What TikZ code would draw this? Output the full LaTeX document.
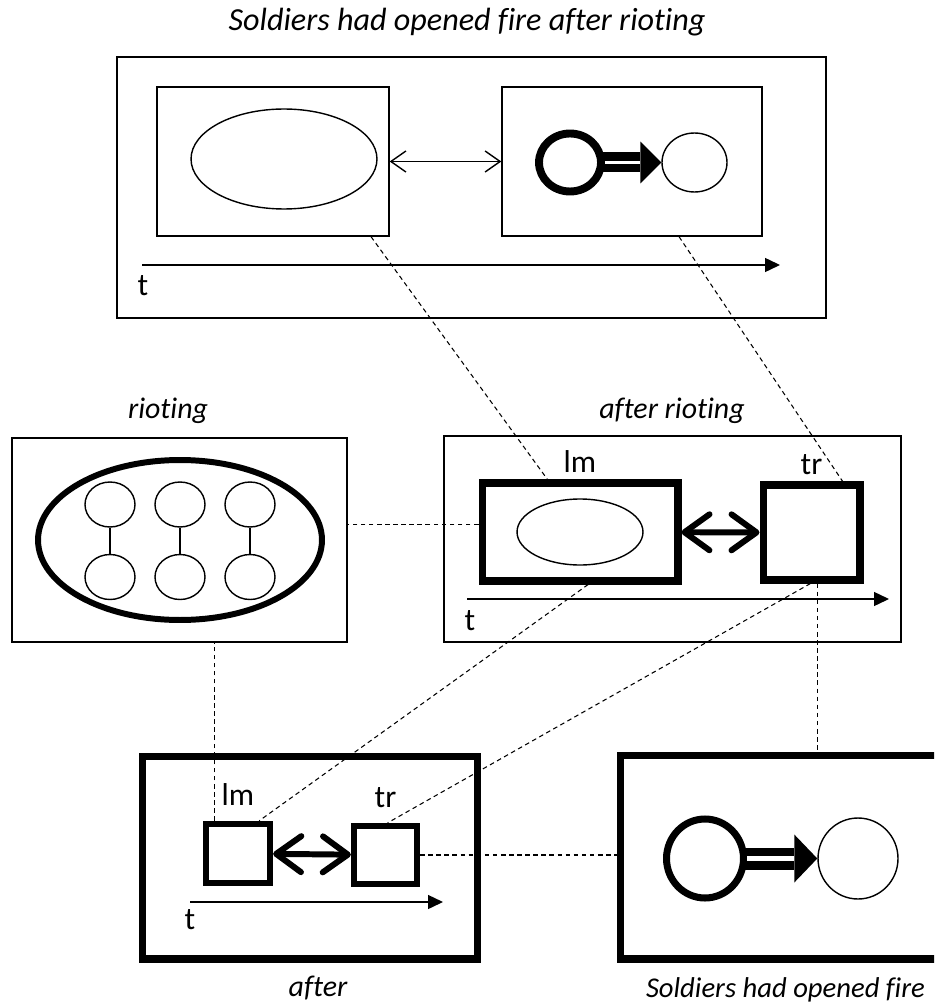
\documentclass[tikz,border=0pt]{standalone}
\usepackage{fontspec}
\setmainfont{Carlito}[Ligatures=NoCommon]
\usetikzlibrary{arrows.meta,positioning,calc,shapes.geometric}

\tikzset{
  thinbox/.style 2 args={draw,line width=0.8pt,minimum width=#1,minimum height=#2,inner sep=0pt},
  thickbox/.style 2 args={draw,line width=4pt,minimum width=#1,minimum height=#2,inner sep=0pt},
  blob/.style 2 args={ellipse,draw,line width=0.8pt,minimum width=#1,minimum height=#2,inner sep=0pt},
  caption/.style={font=\fontsize{17}{20}\selectfont\itshape},
  tag/.style={font=\fontsize{18}{21}\selectfont,inner sep=1pt},
  link/.style={line width=0.6pt,dash pattern=on 2.6pt off 2pt},
  timeline/.style={line width=0.8pt,-{Triangle[length=0.3cm,width=0.28cm]}},
  thinway/.style={line width=0.8pt,{Straight Barb[length=0.3cm,width=0.42cm]}-{Straight Barb[length=0.3cm,width=0.42cm]}},
  twoway/.style={line width=3.4pt,{Straight Barb[round,length=0.5cm,width=0.72cm]}-{Straight Barb[round,length=0.5cm,width=0.72cm]}},
  hollow/.style={white,line width=#1},
}

\begin{document}
\begin{tikzpicture}[x=0.02cm,y=-0.02cm]
\useasboundingbox (0,0) rectangle (934,1003);
\clip (0,0) rectangle (934,1003);

% whole event
\node[caption,font=\fontsize{18.3}{21}\selectfont\itshape] (evTitle) at (467,22) {Soldiers had opened fire after rioting};
\node[thinbox={14.18cm}{5.22cm}] (evBox) at (471.5,187.5) {};
\node[thinbox={4.64cm}{2.98cm}] (evLm) at (273,161.5) {};
\node[thinbox={5.2cm}{2.98cm}] (evTr) at (632,161.5) {};
\node[blob={3.72cm}{2.0cm}] (evLmE) at (284,159) {};
\node[blob={1.24cm}{1.16cm},line width=4.5pt] (evA) at (570,162.5) {};
\node[blob={1.3cm}{1.18cm}] (evB) at (694.5,162.5) {};
\draw[thinway] (evLm) -- (evTr);
\draw[line width=0.4cm,shorten <=-0.05cm,-{Triangle[length=0.42cm,width=0.84cm,line width=0pt]}] (evA) -- (evB);
\draw[hollow=1.7pt,shorten >=0.42cm] (evA) -- (evB);
\coordinate (evT0) at (142,265);
\coordinate (evT1) at (780,265);
\draw[timeline] (evT0) -- (evT1);
\node[tag] (evT) at (143,286) {t};

% rioting
\node[caption] (rtTitle) at (168,411) {rioting};
\node[thinbox={6.7cm}{4.08cm}] (rtBox) at (179.5,540) {};
\node[blob={5.68cm}{3.2cm},line width=3.4pt] (rtE) at (180,540) {};
\foreach \i/\x in {1/110,2/180,3/250}{
  \node[blob={1.0cm}{0.9cm}] (rtU\i) at (\x,504.5) {};
  \node[blob={1.0cm}{0.9cm}] (rtD\i) at (\x,577) {};
  \draw[line width=0.8pt] (rtU\i) -- (rtD\i);
}

% after rioting
\node[caption] (arTitle) at (672,411) {after rioting};
\node[thinbox={9.14cm}{4.12cm}] (arBox) at (672.5,539) {};
\node[thickbox={3.92cm}{1.96cm}] (arLm) at (580,532) {};
\node[thickbox={1.94cm}{1.9cm}] (arTr) at (811.5,532.5) {};
\node[blob={2.52cm}{1.32cm}] (arLmE) at (580,532) {};
\node[tag,above=0.1cm of arLm] (arLmL) {lm};
\node[tag,above=0.1cm of arTr] (arTrL) {tr};
\draw[twoway] (arLm) -- (arTr);
\coordinate (arT0) at (467,599);
\coordinate (arT1) at (889,599);
\draw[timeline] (arT0) -- (arT1);
\node[tag] (arT) at (470,621) {t};

% after
\node[thickbox={6.72cm}{4.06cm}] (afBox) at (310,857.5) {};
\node[thickbox={1.28cm}{1.18cm},line width=3.6pt] (afLm) at (238,853.5) {};
\node[thickbox={1.26cm}{1.16cm},line width=3.6pt] (afTr) at (385.5,855) {};
\node[tag,above=0.26cm of afLm] (afLmL) {lm};
\node[tag,above=0.26cm of afTr] (afTrL) {tr};
\draw[twoway] (afLm) -- (afTr);
\coordinate (afT0) at (190,902);
\coordinate (afT1) at (443,902);
\draw[timeline] (afT0) -- (afT1);
\node[tag] (afT) at (190,920) {t};
\node[caption] (afTitle) at (318,988) {after};

% soldiers had opened fire
\node[thickbox={6.5cm}{4.08cm}] (fireBox) at (782.5,857) {};
\node[blob={1.54cm}{1.58cm},line width=4pt] (fireA) at (705,858.5) {};
\node[blob={1.6cm}{1.62cm}] (fireB) at (858,858.5) {};
\draw[line width=0.44cm,shorten <=-0.05cm,-{Triangle[length=0.46cm,width=0.96cm,line width=0pt]}] (fireA) -- (fireB);
\draw[hollow=2.6pt,shorten >=0.46cm] (fireA) -- (fireB);
\node[caption,font=\fontsize{16.3}{19}\selectfont\itshape,anchor=east] (fireTitle) at (931,990) {Soldiers had opened fire};

% dashed links
\draw[link] ($(evLm.south west)!0.92!(evLm.south east)$) -- ($(arLm.north west)!0.34!(arLm.north east)$);
\draw[link] ($(evTr.south west)!0.68!(evTr.south east)$) -- ($(arTr.north west)!0.8!(arTr.north east)$);
\coordinate (rtOut) at ($(arLm.north west)!0.43!(arLm.south west)$);
\draw[link] (rtOut) -- (rtOut -| rtBox.east);
\coordinate (afIn) at ($(afLm.north west)!0.17!(afLm.north east)$);
\draw[link] (afIn) -- (afIn |- rtBox.south);
\draw[link] ($(arLm.south west)!0.54!(arLm.south east)$) -- ($(afLm.north west)!0.8!(afLm.north east)$);
\draw[link] ($(arTr.south west)!0.49!(arTr.south east)$) -- ($(afTr.north west)!0.53!(afTr.north east)$);
\coordinate (fireIn) at ($(arTr.south west)!0.56!(arTr.south east)$);
\draw[link] (fireIn) -- (fireIn |- fireBox.north);
\draw[link] (afTr.east) -- (afTr.east -| fireBox.west);
\end{tikzpicture}
\end{document}
